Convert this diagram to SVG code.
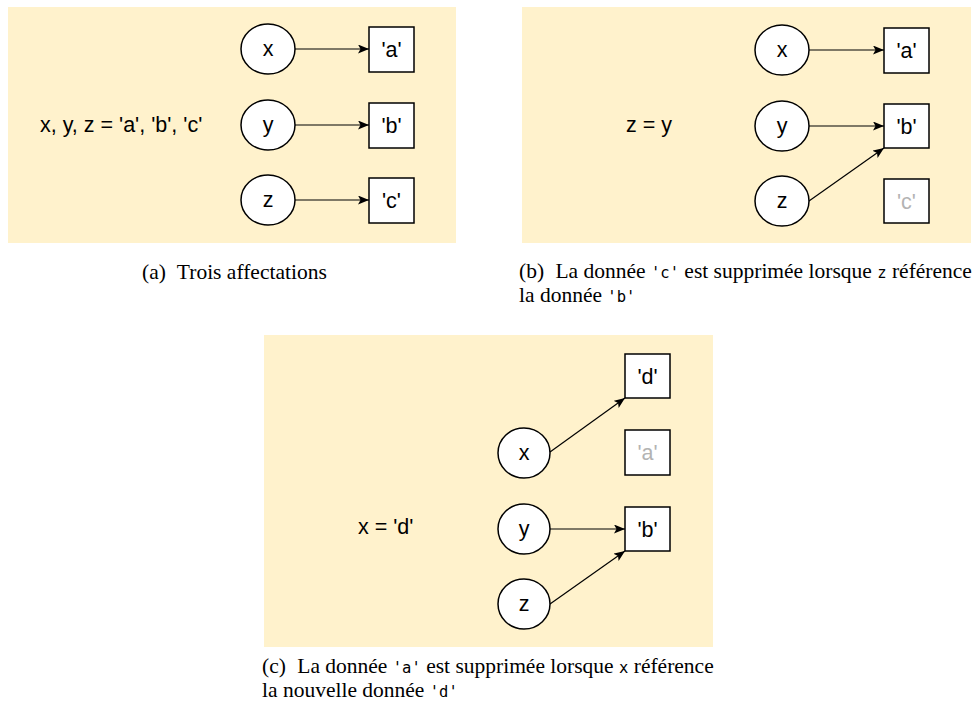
<svg xmlns="http://www.w3.org/2000/svg" width="975" height="710" viewBox="0 0 975 710">
<style>
.bg{fill:#fff2cc;stroke:none}
.var{fill:#fff;stroke:#000;stroke-width:1.5}
.val{fill:#fff;stroke:#000;stroke-width:1.5}
.t{font-family:"Liberation Sans",Arial,sans-serif;font-size:21.5px;fill:#000;text-anchor:middle}
.dead{fill:#b3b3b3}
.code{font-family:"Liberation Sans",Arial,sans-serif;font-size:21.5px;fill:#000}
.cap{font-family:"Liberation Serif","Times New Roman",serif;font-size:21.5px;fill:#000}
.mono{font-family:"DejaVu Sans Mono",monospace;font-size:15.5px}
.edge{stroke:#000;stroke-width:1.2;fill:none;marker-end:url(#arr)}
</style>
<defs>
<marker id="arr" markerUnits="userSpaceOnUse" markerWidth="12" markerHeight="10" refX="11" refY="4.5" orient="auto">
<path d="M0,0 L11,4.5 L0,9 L2.5,4.5 z" fill="#000"/>
</marker>
</defs>

<!-- Panel (a) -->
<rect class="bg" x="8" y="7" width="448" height="236"/>
<text class="code" x="40" y="132">x, y, z = 'a', 'b', 'c'</text>
<g id="a-x"><ellipse class="var" cx="268" cy="49" rx="27" ry="25"/><text class="t" x="268" y="56">x</text></g>
<g id="a-y"><ellipse class="var" cx="268" cy="125" rx="27" ry="25"/><text class="t" x="268" y="132">y</text></g>
<g id="a-z"><ellipse class="var" cx="268" cy="200" rx="27" ry="25"/><text class="t" x="268" y="207">z</text></g>
<g id="a-va"><rect class="val" x="369" y="27" width="45" height="45"/><text class="t" x="391.5" y="57">'a'</text></g>
<g id="a-vb"><rect class="val" x="369" y="103" width="45" height="45"/><text class="t" x="391.5" y="133">'b'</text></g>
<g id="a-vc"><rect class="val" x="369" y="178" width="45" height="45"/><text class="t" x="391.5" y="208">'c'</text></g>

<!-- Panel (b) -->
<rect class="bg" x="522" y="7" width="449" height="236"/>
<text class="code" x="626" y="132">z = y</text>
<g id="b-x"><ellipse class="var" cx="782" cy="50" rx="27" ry="25"/><text class="t" x="782" y="57">x</text></g>
<g id="b-y"><ellipse class="var" cx="782" cy="126" rx="27" ry="25"/><text class="t" x="782" y="133">y</text></g>
<g id="b-z"><ellipse class="var" cx="782" cy="201" rx="27" ry="25"/><text class="t" x="782" y="208">z</text></g>
<g id="b-va"><rect class="val" x="884" y="28" width="45" height="45"/><text class="t" x="906.5" y="58">'a'</text></g>
<g id="b-vb"><rect class="val" x="884" y="104" width="45" height="44"/><text class="t" x="906.5" y="134">'b'</text></g>
<g id="b-vc"><rect class="val" x="884" y="179" width="45" height="44"/><text class="t dead" x="906.5" y="209">'c'</text></g>

<!-- Panel (c) -->
<rect class="bg" x="264" y="335" width="449" height="312"/>
<text class="code" x="358" y="534">x = 'd'</text>
<g id="c-x"><ellipse class="var" cx="524" cy="453" rx="26" ry="25"/><text class="t" x="524" y="460">x</text></g>
<g id="c-y"><ellipse class="var" cx="524" cy="529" rx="26" ry="25"/><text class="t" x="524" y="536">y</text></g>
<g id="c-z"><ellipse class="var" cx="524" cy="604" rx="26" ry="25"/><text class="t" x="524" y="611">z</text></g>
<g id="c-vd"><rect class="val" x="625" y="354" width="45" height="44"/><text class="t" x="647.5" y="384">'d'</text></g>
<g id="c-va"><rect class="val" x="625" y="430" width="45" height="45"/><text class="t dead" x="647.5" y="460">'a'</text></g>
<g id="c-vb"><rect class="val" x="625" y="507" width="45" height="44"/><text class="t" x="647.5" y="537">'b'</text></g>

<g id="connectors">
<line class="edge" x1="295" y1="49" x2="369" y2="49"/>
<line class="edge" x1="295" y1="125" x2="369" y2="125"/>
<line class="edge" x1="295" y1="200" x2="369" y2="200"/>
<line class="edge" x1="809" y1="50" x2="884" y2="50"/>
<line class="edge" x1="809" y1="126" x2="884" y2="126"/>
<line class="edge" x1="809" y1="201" x2="884" y2="148"/>
<line class="edge" x1="550" y1="452" x2="625" y2="398"/>
<line class="edge" x1="550" y1="529" x2="625" y2="529"/>
<line class="edge" x1="550" y1="604" x2="625" y2="551"/>
</g>

<!-- Captions -->
<text class="cap" x="142" y="279">(a) <tspan dx="6">Trois affectations</tspan></text>
<text class="cap" x="519" y="278">(b) <tspan dx="6">La donnée </tspan><tspan class="mono">'c'</tspan> est supprimée lorsque <tspan class="mono">z</tspan> référence</text>
<text class="cap" x="519" y="302">la donnée <tspan class="mono">'b'</tspan></text>
<text class="cap" x="262" y="673">(c) <tspan dx="6">La donnée </tspan><tspan class="mono">'a'</tspan> est supprimée lorsque <tspan class="mono">x</tspan> référence</text>
<text class="cap" x="262" y="697">la nouvelle donnée <tspan class="mono">'d'</tspan></text>
</svg>
